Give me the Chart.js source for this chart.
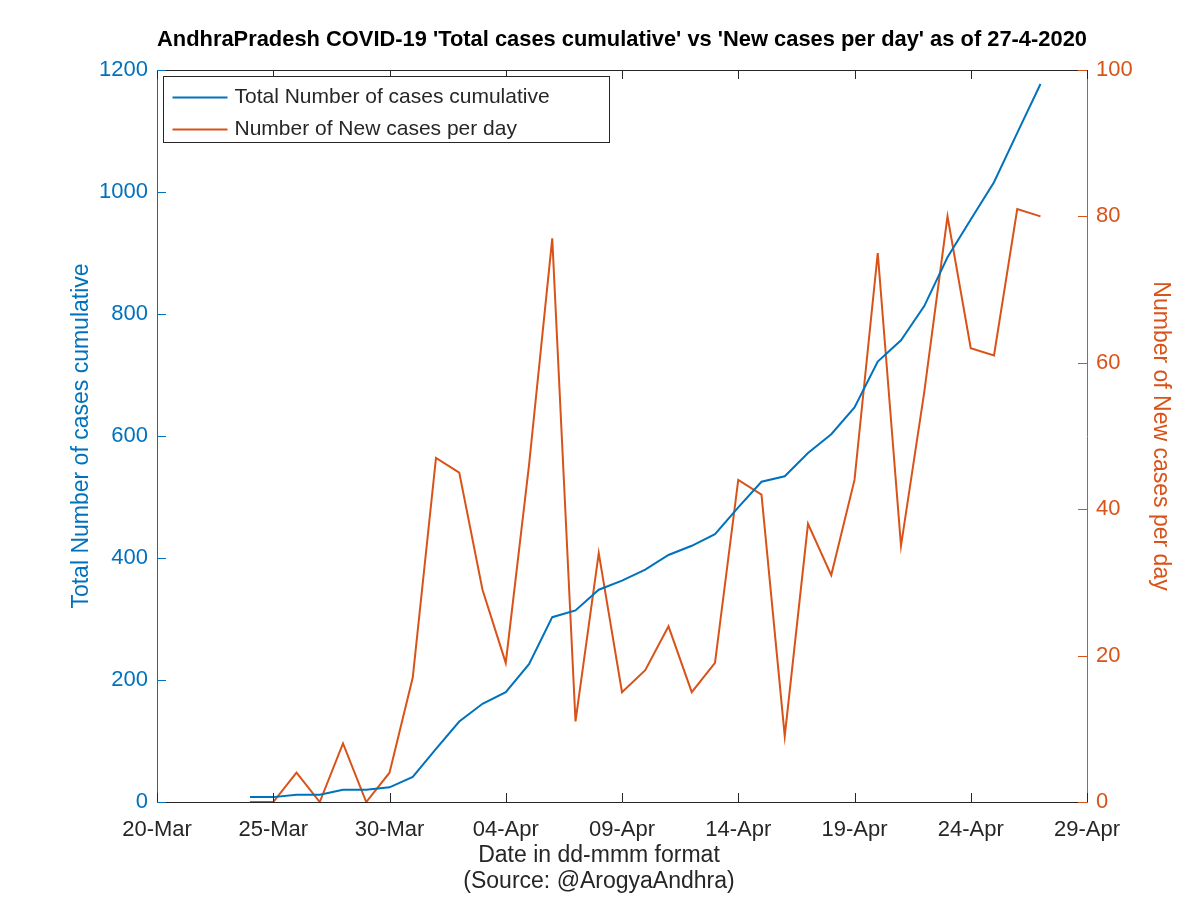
<!DOCTYPE html>
<html>
<head>
<meta charset="utf-8">
<script src="https://cdn.jsdelivr.net/npm/chart.js@4.4.1/dist/chart.umd.min.js"></script>
<style>
  body { margin: 0; background: #fff; }
  #wrap { width: 1200px; height: 898px; }
</style>
</head>
<body>
<div id="wrap"><canvas id="chart"></canvas></div>
<script>
// data, 24-Mar .. 27-Apr 2020
const dates = ['2020-03-24','2020-03-25','2020-03-26','2020-03-27','2020-03-28','2020-03-29','2020-03-30','2020-03-31',
  '2020-04-01','2020-04-02','2020-04-03','2020-04-04','2020-04-05','2020-04-06','2020-04-07','2020-04-08','2020-04-09',
  '2020-04-10','2020-04-11','2020-04-12','2020-04-13','2020-04-14','2020-04-15','2020-04-16','2020-04-17','2020-04-18',
  '2020-04-19','2020-04-20','2020-04-21','2020-04-22','2020-04-23','2020-04-24','2020-04-25','2020-04-26','2020-04-27'];
const totalCases = [8, 8, 12, 12, 20, 20, 24, 41, 87, 132, 161, 180, 226, 303, 314, 348, 363, 381, 405, 420, 439,
  483, 525, 534, 572, 603, 647, 722, 757, 813, 893, 955, 1016, 1097, 1177];
const newCases = [0, 0, 4, 0, 8, 0, 4, 17, 47, 45, 29, 19, 46, 77, 11, 34, 15, 18, 24, 15, 19,
  44, 42, 9, 38, 31, 44, 75, 35, 56, 80, 62, 61, 81, 80];
const xTickLabels = ['20-Mar', '25-Mar', '30-Mar', '04-Apr', '09-Apr', '14-Apr', '19-Apr', '24-Apr', '29-Apr'];
const xTitle = ['Date in dd-mmm format', '(Source: @ArogyaAndhra)'];

const BLUE = '#0072BD';
const ORANGE = '#D95319';
const AXIS = '#262626';
const FONT = "'Liberation Sans', Arial, sans-serif";

// x is days since 20-Mar
const origin = Date.UTC(2020, 2, 20);
const dayOf = s => {
  const [y, m, d] = s.split('-').map(Number);
  return Math.round((Date.UTC(y, m - 1, d) - origin) / 86400000);
};
const xs = dates.map(dayOf);

// MATLAB style inward ticks, top axis line, legend box, x label
const matlabAxes = {
  id: 'matlabAxes',
  afterDatasetsDraw(chart) {
    const { ctx, chartArea: a, scales } = chart;
    const len = 9;
    ctx.save();
    ctx.lineWidth = 1;

    ctx.strokeStyle = AXIS;
    ctx.beginPath();
    ctx.moveTo(a.left, a.top + 0.5);
    ctx.lineTo(a.right, a.top + 0.5);
    scales.x.ticks.forEach(t => {
      const px = Math.round(scales.x.getPixelForValue(t.value)) + 0.5;
      ctx.moveTo(px, a.bottom);
      ctx.lineTo(px, a.bottom - len);
      ctx.moveTo(px, a.top);
      ctx.lineTo(px, a.top + len);
    });
    ctx.stroke();

    ctx.strokeStyle = BLUE;
    ctx.beginPath();
    scales.y.ticks.forEach(t => {
      const py = Math.round(scales.y.getPixelForValue(t.value)) + 0.5;
      ctx.moveTo(a.left, py);
      ctx.lineTo(a.left + len, py);
    });
    ctx.stroke();

    ctx.strokeStyle = ORANGE;
    ctx.beginPath();
    scales.y1.ticks.forEach(t => {
      const py = Math.round(scales.y1.getPixelForValue(t.value)) + 0.5;
      ctx.moveTo(a.right, py);
      ctx.lineTo(a.right - len, py);
    });
    ctx.stroke();

    // legend
    const bx = a.left + 6.5, by = a.top + 6.5, bw = 446, bh = 66;
    ctx.fillStyle = '#fff';
    ctx.fillRect(bx, by, bw, bh);
    ctx.strokeStyle = AXIS;
    ctx.strokeRect(bx, by, bw, bh);
    ctx.font = '21px ' + FONT;
    ctx.textBaseline = 'middle';
    chart.data.datasets.forEach((ds, i) => {
      const ly = by + 21 + i * 32;
      ctx.strokeStyle = ds.borderColor;
      ctx.lineWidth = 2;
      ctx.beginPath();
      ctx.moveTo(bx + 9, ly);
      ctx.lineTo(bx + 64, ly);
      ctx.stroke();
      ctx.fillStyle = AXIS;
      ctx.fillText(ds.label, bx + 71, ly);
    });

    // x label, centred like the original (a bit left of the axes centre)
    ctx.font = '23px ' + FONT;
    ctx.textAlign = 'center';
    ctx.fillStyle = AXIS;
    xTitle.forEach((line, i) => ctx.fillText(line, 599, 856 + i * 26));
    ctx.restore();
  }
};

new Chart(document.getElementById('chart'), {
  type: 'line',
  data: {
    datasets: [
      {
        label: 'Total Number of cases cumulative',
        data: xs.map((x, i) => ({ x, y: totalCases[i] })),
        borderColor: BLUE,
        borderWidth: 2,
        pointRadius: 0,
        tension: 0,
        yAxisID: 'y'
      },
      {
        label: 'Number of New cases per day',
        data: xs.map((x, i) => ({ x, y: newCases[i] })),
        borderColor: ORANGE,
        borderWidth: 2,
        pointRadius: 0,
        tension: 0,
        yAxisID: 'y1'
      }
    ]
  },
  options: {
    responsive: true,
    maintainAspectRatio: false,
    animation: false,
    events: [],
    layout: { padding: 0 },
    plugins: {
      legend: { display: false },
      tooltip: { enabled: false },
      title: {
        display: true,
        fullSize: false,
        text: "AndhraPradesh COVID-19 'Total cases cumulative' vs 'New cases per day' as of 27-4-2020",
        color: '#000',
        font: { family: FONT, size: 22.5, weight: 'bold', lineHeight: 1.2 },
        padding: { top: 26.5, bottom: 16.5 }
      }
    },
    scales: {
      x: {
        type: 'linear',
        min: 0,
        max: 40,
        afterFit: s => { s.height = 96; },
        ticks: {
          stepSize: 5,
          autoSkip: false,
          maxRotation: 0,
          padding: 15,
          color: AXIS,
          font: { family: FONT, size: 22 },
          callback: v => xTickLabels[v / 5]
        },
        grid: { display: false, drawTicks: false },
        border: { display: true, color: AXIS, width: 1 }
      },
      y: {
        position: 'left',
        min: 0,
        max: 1200,
        afterFit: s => { s.width = 157; },
        ticks: { stepSize: 200, padding: 9, color: BLUE, font: { family: FONT, size: 22 }, callback: v => String(v) },
        grid: { display: false, drawTicks: false },
        border: { display: true, color: BLUE, width: 1 },
        title: {
          display: true,
          text: 'Total Number of cases cumulative',
          color: BLUE,
          font: { family: FONT, size: 23, lineHeight: 1.2 },
          padding: { top: 68, bottom: 0 }
        }
      },
      y1: {
        position: 'right',
        min: 0,
        max: 100,
        afterFit: s => { s.width = 113; },
        ticks: { stepSize: 20, padding: 9, color: ORANGE, font: { family: FONT, size: 22 }, callback: v => String(v) },
        grid: { display: false, drawTicks: false },
        border: { display: true, color: ORANGE, width: 1 },
        title: {
          display: true,
          text: 'Number of New cases per day',
          color: ORANGE,
          font: { family: FONT, size: 23, lineHeight: 1.2 },
          padding: { top: 26, bottom: 0 }
        }
      }
    }
  },
  plugins: [matlabAxes]
});
</script>
</body>
</html>
